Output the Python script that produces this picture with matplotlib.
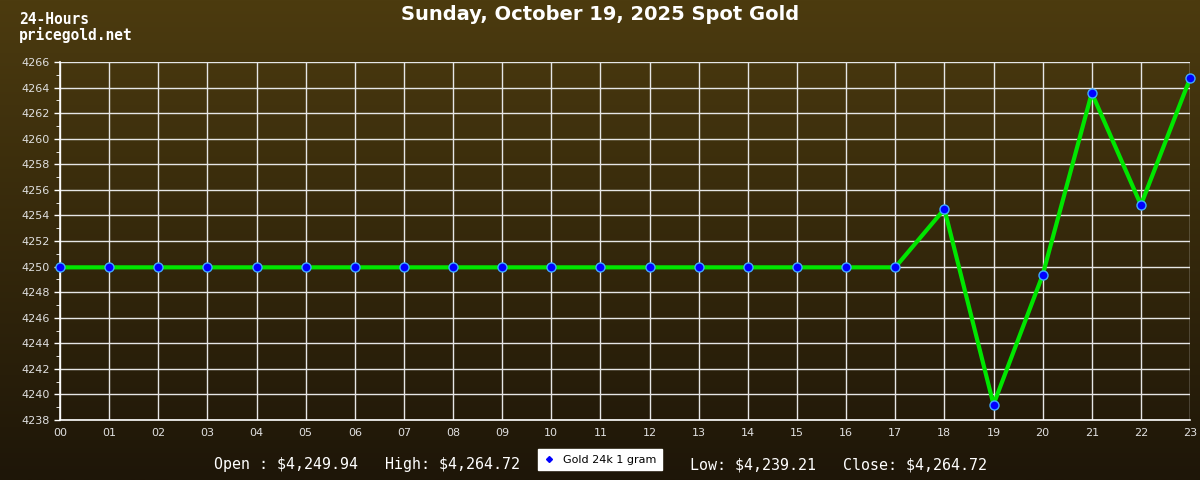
import numpy as np
import matplotlib
matplotlib.use('Agg')
import matplotlib.pyplot as plt
from matplotlib.lines import Line2D

# data
hours = ['00','01','02','03','04','05','06','07','08','09','10','11',
         '12','13','14','15','16','17','18','19','20','21','22','23']
prices = [4249.94]*18 + [4254.5, 4239.21, 4249.34, 4263.58, 4254.82, 4264.72]
title = 'Sunday, October 19, 2025 Spot Gold'
stats_left = r'Open : \$4,249.94   High: \$4,264.72'
stats_right = r'Low: \$4,239.21   Close: \$4,264.72'
series_name = 'Gold 24k 1 gram'

fig = plt.figure(figsize=(12, 4.8), dpi=100)

# gradient background
bg = fig.add_axes([0, 0, 1, 1], zorder=-10)
top = np.array([76, 59, 15]) / 255.0
bot = np.array([30, 22, 8]) / 255.0
t = np.linspace(0, 1, 256)[:, None]
grad = (top[None, :] * (1 - t) + bot[None, :] * t)[:, None, :]
bg.imshow(grad, aspect='auto', extent=[0, 1, 0, 1])
bg.set_axis_off()

ax = fig.add_axes([0.05, 0.125, 0.9417, 0.7458])
ax.patch.set_alpha(0)
x = np.arange(len(hours))
ax.plot(x, prices, color='#00e600', lw=3.0, zorder=3, clip_on=False)
ax.plot(x, prices, ls='none', marker='o', ms=6.5, mfc='#0000ff', mec='#3fa9ff',
        mew=1, zorder=4, clip_on=False)

ax.set_xlim(0, 23)
ax.set_ylim(4238, 4266)
ax.set_xticks(x)
ax.set_xticklabels(hours)
ax.set_yticks(np.arange(4238, 4267, 2))
ax.set_yticks(np.arange(4239, 4266, 2), minor=True)
ax.grid(True, color='#e6e6e6', lw=1.0)
ax.set_axisbelow(True)
for s in ['top', 'right']:
    ax.spines[s].set_visible(False)
for s in ['left', 'bottom']:
    ax.spines[s].set_color('white')
    ax.spines[s].set_linewidth(1.2)
ax.tick_params(axis='both', colors='white', labelcolor='#e0e0e0', labelsize=8,
               length=4, width=1)
ax.tick_params(axis='y', which='minor', colors='white', length=3)
ax.tick_params(axis='x', length=0, pad=6)

fig.text(0.5, 0.97, title, ha='center', va='center', color='white',
         fontsize=14, fontweight='bold')
fig.text(0.016, 0.96, '24-Hours', ha='left', va='center', color='white',
         fontsize=10.5, family='DejaVu Sans Mono', fontweight='bold')
fig.text(0.016, 0.928, 'pricegold.net', ha='left', va='center', color='white',
         fontsize=10.5, family='DejaVu Sans Mono', fontweight='bold')

fig.text(0.4335, 0.032, stats_left, ha='right', va='center', color='white',
         fontsize=10.8, family='DejaVu Sans Mono')
fig.text(0.575, 0.032, stats_right, ha='left', va='center', color='white',
         fontsize=10.8, family='DejaVu Sans Mono')

h = Line2D([], [], ls='none', marker='D', ms=3, mfc='#0000ff', mec='#0000ff')
leg = fig.legend([h], [series_name], loc='center', bbox_to_anchor=(0.5, 0.042),
                 frameon=True, fontsize=8, fancybox=False, handlelength=1,
                 handletextpad=0.8, borderpad=0.5, framealpha=1)
leg.get_frame().set_facecolor('white')
leg.get_frame().set_edgecolor('white')

fig.savefig('out.png', dpi=100)
